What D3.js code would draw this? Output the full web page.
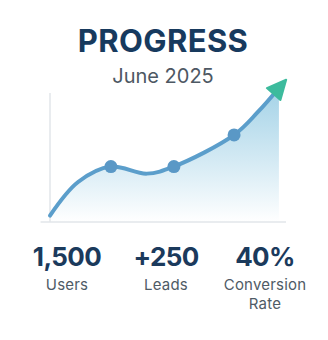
<!DOCTYPE html>
<html><head><meta charset="utf-8">
<script src="https://cdn.jsdelivr.net/npm/d3@7"></script>
<style>html,body{margin:0;padding:0;background:#fff;}svg{display:block;}</style>
</head><body>
<script>
const title = "PROGRESS";
const subtitle = "June 2025";
// curve points (x position 0-100 along the period, y value 0-100)
const curveX = [0, 11.9, 25.8, 41, 52.5, 78, 88.1, 97.0];
const curveY = [5, 31, 43, 37.5, 43, 67.5, 85.3, 103.9];
const markerIdx = [2, 4, 5];
const statValues = ["1,500", "+250", "40%"];
const statLabels = [["Users"], ["Leads"], ["Conversion", "Rate"]];

const W = 328, H = 340;
const svg = d3.select("body").append("svg").attr("width", W).attr("height", H);
const data = curveX.map((x, i) => ({x, y: curveY[i]}));
const x = d3.scaleLinear().domain([0, 100]).range([50, 286]);
const y = d3.scaleLinear().domain([0, 100]).range([222, 93]);

const defs = svg.append("defs");
const g = defs.append("linearGradient").attr("id", "fillg").attr("x1", 0).attr("y1", 0).attr("x2", 0).attr("y2", 1);
g.append("stop").attr("offset", "0%").attr("stop-color", "#9fd0e6").attr("stop-opacity", 0.95);
g.append("stop").attr("offset", "100%").attr("stop-color", "#ffffff").attr("stop-opacity", 1);

svg.append("text").attr("x", 163).attr("y", 52).attr("text-anchor", "middle")
  .attr("font-family", "Inter, sans-serif").attr("font-weight", 700).attr("font-size", 31)
  .attr("letter-spacing", 0.4).attr("fill", "#173a5e").text(title);
svg.append("text").attr("x", 163).attr("y", 83).attr("text-anchor", "middle")
  .attr("font-family", "Inter, sans-serif").attr("font-size", 20)
  .attr("fill", "#4d5863").text(subtitle);

const curve = d3.curveCatmullRom.alpha(0.5);
const area = d3.area().x(d => x(d.x)).y0(y(0)).y1(d => y(d.y)).curve(curve);
const line = d3.line().x(d => x(d.x)).y(d => y(d.y)).curve(curve);

svg.append("path").datum(data).attr("d", area).attr("fill", "url(#fillg)");

// axes
svg.append("line").attr("x1", x(0)).attr("x2", x(0)).attr("y1", y(100)).attr("y2", y(0))
  .attr("stroke", "#e2e6ea").attr("stroke-width", 1.5);
svg.append("line").attr("x1", x(-4)).attr("x2", x(100)).attr("y1", y(0)).attr("y2", y(0))
  .attr("stroke", "#e2e6ea").attr("stroke-width", 1.5);

svg.append("path").datum(data).attr("d", line).attr("fill", "none")
  .attr("stroke", "#5b9ecb").attr("stroke-width", 4).attr("stroke-linecap", "round");

svg.selectAll("circle.m").data(markerIdx.map(i => data[i])).enter().append("circle")
  .attr("cx", d => x(d.x)).attr("cy", d => y(d.y)).attr("r", 6.5).attr("fill", "#5a98c6");

// arrow head at end
const a = data[data.length - 2], b = data[data.length - 1];
const p0 = [x(a.x), y(a.y)], p1 = [x(b.x), y(b.y)];
const ang = Math.atan2(p1[1] - p0[1], p1[0] - p0[0]);
const L = 19, Wd = 9;
const tip = [p1[0] + Math.cos(ang) * 11, p1[1] + Math.sin(ang) * 11];
const base = [tip[0] - Math.cos(ang) * L, tip[1] - Math.sin(ang) * L];
const perp = ang + Math.PI / 2;
const tri = [tip, [base[0] + Math.cos(perp) * Wd, base[1] + Math.sin(perp) * Wd],
  [base[0] - Math.cos(perp) * Wd, base[1] - Math.sin(perp) * Wd]];
svg.append("path").attr("d", "M" + tri.map(p => p.join(",")).join("L") + "Z")
  .attr("fill", "#3dbb9d").attr("stroke", "#3dbb9d").attr("stroke-linejoin", "round").attr("stroke-width", 2);

// stats
const sx = d3.scalePoint().domain(d3.range(statValues.length)).range([67, 265]);
const st = svg.selectAll("g.stat").data(statValues).enter().append("g")
  .attr("transform", (d, i) => `translate(${sx(i)},0)`);
st.append("text").attr("y", 266).attr("text-anchor", "middle")
  .attr("font-family", "Inter, sans-serif").attr("font-weight", 700).attr("font-size", 26)
  .attr("letter-spacing", -0.6).attr("fill", "#1b3a5c").text(d => d);
st.each(function(d, i) {
  statLabels[i].forEach((t, j) => {
    d3.select(this).append("text").attr("y", 290 + j * 19).attr("text-anchor", "middle")
      .attr("font-family", "Inter, sans-serif").attr("font-size", 15)
      .attr("letter-spacing", 0.2).attr("fill", "#4f5b66").text(t);
  });
});
</script>
</body></html>
